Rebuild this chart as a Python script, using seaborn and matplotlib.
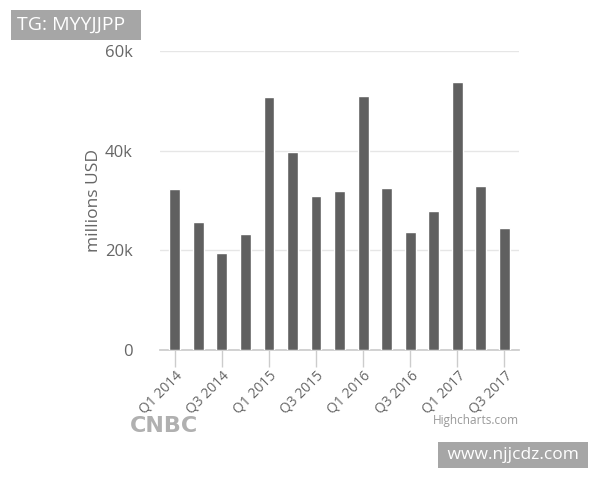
import numpy as np
import pandas as pd
import seaborn as sns
from matplotlib import pyplot as plt

# ===== data (millions USD) =====
quarters = ["Q1 2014", "Q2 2014", "Q3 2014", "Q4 2014",
            "Q1 2015", "Q2 2015", "Q3 2015", "Q4 2015",
            "Q1 2016", "Q2 2016", "Q3 2016", "Q4 2016",
            "Q1 2017", "Q2 2017", "Q3 2017"]
values = [32200, 25700, 19400, 23200,
          50700, 39800, 30800, 31900,
          51000, 32400, 23700, 27800,
          53700, 32800, 24500]
y_ticks = [0, 20000, 40000, 60000]
y_tick_labels = ["0", "20k", "40k", "60k"]

df = pd.DataFrame({"quarter": quarters, "value": values})

sns.set_theme(style="white")
plt.rcParams['font.family'] = ['Open Sans', 'DejaVu Sans']

fig = plt.figure(figsize=(6, 4.8), dpi=100)
ax = fig.add_axes([0.267, 0.271, 0.598, 0.623])

sns.barplot(data=df, x="quarter", y="value", color="#606060",
            saturation=1, width=0.46, ax=ax, zorder=3)

ax.set_ylim(0, 60000)
ax.set_xlim(-0.62, len(quarters) - 0.38)
ax.set_yticks(y_ticks)
ax.set_yticklabels(y_tick_labels)
ax.yaxis.grid(True, color="#e6e6e6", lw=1, zorder=0)
ax.tick_params(axis='y', length=0, labelsize=12, labelcolor="#666666", pad=20)

idx = np.arange(0, len(quarters), 2)
ax.set_xticks(idx)
ax.set_xticklabels([quarters[i] for i in idx], rotation=45, ha="right",
                   va="top", rotation_mode="anchor")
for lbl in ax.get_xticklabels():
    lbl.set_x(lbl.get_position()[0])
ax.tick_params(axis='x', length=12, width=1, color="#cccccc", direction="out",
               labelsize=10, labelcolor="#666666", pad=1, bottom=True)

for side in ["top", "right", "left"]:
    ax.spines[side].set_visible(False)
ax.spines["bottom"].set_color("#cccccc")

ax.set_xlabel("")
ax.set_ylabel("millions USD", fontsize=12.5, color="#666666", labelpad=2)

# ===== credits / watermarks =====
fig.text(0.217, 0.112, "CNBC", fontsize=16, fontweight="heavy",
         family=["DejaVu Sans"], color="#b0b0b0", ha="left", va="center")
fig.text(0.865, 0.123, "Highcharts.com", fontsize=8.5, color="#999999",
         ha="right", va="center")
fig.text(0.028, 0.948, "TG: MYYJJPP  ", fontsize=14, color="white",
         ha="left", va="center",
         bbox=dict(boxstyle="square,pad=0.3", fc="#a6a6a6", ec="none"))
fig.text(0.738, 0.052, " www.njjcdz.com ", fontsize=12.5, color="white",
         ha="left", va="center",
         bbox=dict(boxstyle="square,pad=0.3", fc="#a6a6a6", ec="none"))

fig.savefig("out.png", dpi=100, facecolor="white")
